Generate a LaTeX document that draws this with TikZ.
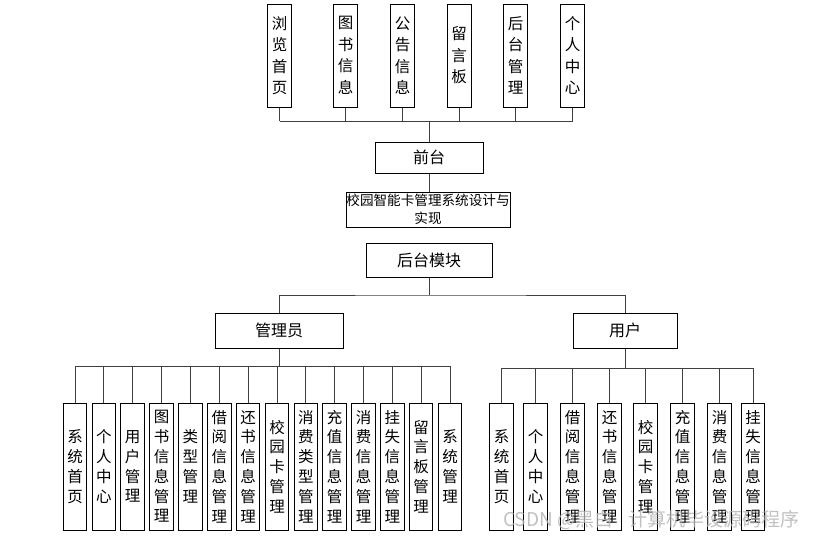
\documentclass[tikz,border=0pt]{standalone}
\usepackage{fontspec}
\newfontfamily\cjk{Noto Sans CJK SC}
\begin{document}
\begin{tikzpicture}[x=1pt,y=-1pt,
  box/.style={draw=black,line width=1pt,inner sep=0pt,align=center,font=\cjk},
  topbox/.style={box,minimum width=24pt,minimum height=103pt,font=\cjk\fontsize{15.5}{21.5}\selectfont},
  leaf/.style={box,minimum width=23.5pt,minimum height=127pt,font=\cjk\fontsize{15.5}{19.8}\selectfont},
  midbox/.style={box,font=\cjk\fontsize{16}{18}\selectfont},
  conn/.style={draw=black!75,line width=0.9pt}]
\useasboundingbox (0,0) rectangle (830,539);
\fill[white] (0,0) rectangle (830,539);
% top boxes
\node[topbox] (t1) at (279.5,55.5) {浏\\览\\首\\页};
\node[topbox] (t2) at (345.5,55.5) {图\\书\\信\\息};
\node[topbox] (t3) at (402.5,55.5) {公\\告\\信\\息};
\node[topbox] (t4) at (459,55.5) {留\\言\\板};
\node[topbox] (t5) at (515.5,55.5) {后\\台\\管\\理};
\node[topbox] (t6) at (572.5,55.5) {个\\人\\中\\心};
% middle
\node[midbox,minimum width=108pt,minimum height=31pt] (front) at (429,157.5) {前台};
\node[box,minimum width=164pt,minimum height=35pt,font=\cjk\fontsize{13.6}{18}\selectfont] (title) at (428,209.5) {校园智能卡管理系统设计与\\实现};
\node[midbox,minimum width=126pt,minimum height=34pt] (back) at (429,260) {后台模块};
\node[midbox,minimum width=128pt,minimum height=35pt] (admin) at (279,330.5) {管理员};
\node[midbox,minimum width=104pt,minimum height=35pt] (user) at (625,330.5) {用户};
% left leaves
\node[leaf] (l1) at (75,466.5) {系\\统\\首\\页};
\node[leaf] (l2) at (103.9,466.5) {个\\人\\中\\心};
\node[leaf] (l3) at (132.7,466.5) {用\\户\\管\\理};
\node[leaf] (l4) at (161.6,466.5) {图\\书\\信\\息\\管\\理};
\node[leaf] (l5) at (190.4,466.5) {类\\型\\管\\理};
\node[leaf] (l6) at (219.3,466.5) {借\\阅\\信\\息\\管\\理};
\node[leaf] (l7) at (248.1,466.5) {还\\书\\信\\息\\管\\理};
\node[leaf] (l8) at (277,466.5) {校\\园\\卡\\管\\理};
\node[leaf] (l9) at (305.8,466.5) {消\\费\\类\\型\\管\\理};
\node[leaf] (l10) at (334.7,466.5) {充\\值\\信\\息\\管\\理};
\node[leaf] (l11) at (363.5,466.5) {消\\费\\信\\息\\管\\理};
\node[leaf] (l12) at (392.4,466.5) {挂\\失\\信\\息\\管\\理};
\node[leaf] (l13) at (421.2,466.5) {留\\言\\板\\管\\理};
\node[leaf] (l14) at (450,466.5) {系\\统\\管\\理};
% right leaves
\node[leaf] (r1) at (501.5,466.5) {系\\统\\首\\页};
\node[leaf] (r2) at (535.5,466.5) {个\\人\\中\\心};
\node[leaf] (r3) at (572.5,466.5) {借\\阅\\信\\息\\管\\理};
\node[leaf] (r4) at (609.5,466.5) {还\\书\\信\\息\\管\\理};
\node[leaf] (r5) at (645.5,466.5) {校\\园\\卡\\管\\理};
\node[leaf] (r6) at (682.5,466.5) {充\\值\\信\\息\\管\\理};
\node[leaf] (r7) at (719.5,466.5) {消\\费\\信\\息\\管\\理};
\node[leaf] (r8) at (753,466.5) {挂\\失\\信\\息\\管\\理};
% buses
\coordinate (topbus) at (429,121);
\coordinate (midbus) at (428.5,295);
\coordinate (lbus) at (279,366);
\coordinate (rbus) at (625,368);
% top connectors
\foreach \i in {1,...,6} {\draw[conn] (t\i.south) -- (t\i.south |- topbus);}
\draw[conn] (t1.south |- topbus) -- (t6.south |- topbus);
\draw[conn] (topbus) -- (front.north);
\draw[conn] (front.south) -- (front.south |- title.north);
\draw[conn] (title.south) -- (title.south -| back.north);
\draw[conn] (back.south) -- (back.south |- midbus);
\draw[conn] (admin.north) |- (back.south |- midbus) -| (user.north);
% left
\draw[conn] (admin.south) -- (lbus);
\foreach \i in {1,...,14} {\draw[conn] (l\i.north) -- (l\i.north |- lbus);}
\draw[conn] (l1.north |- lbus) -- (l14.north |- lbus);
% right
\draw[conn] (user.south) -- (rbus);
\foreach \i in {1,...,8} {\draw[conn] (r\i.north) -- (r\i.north |- rbus);}
\draw[conn] (r1.north |- rbus) -- (r8.north |- rbus);
% watermark
\node[font=\cjk\fontsize{19}{20}\selectfont,text=black!30,opacity=0.8,anchor=west,inner sep=0pt] (wm) at (503,520) {CSDN @黑白\hspace{0.8em}计算机毕设源码程序};
\end{tikzpicture}
\end{document}
